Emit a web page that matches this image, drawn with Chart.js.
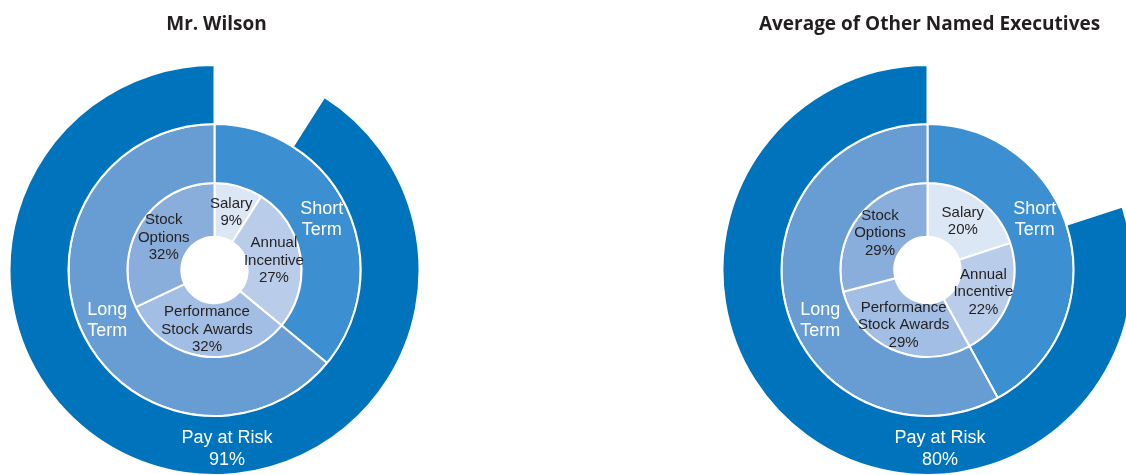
<!DOCTYPE html>
<html>
<head>
<meta charset="utf-8">
<script src="https://cdn.jsdelivr.net/npm/chart.js@4.4.1/dist/chart.umd.min.js"></script>
<style>
  html, body { margin: 0; padding: 0; background: #fff; }
  #wrap { position: relative; width: 1126px; height: 475px; overflow: hidden; }
  .pie { position: absolute; top: 0; width: 429px; height: 475px; }
</style>
</head>
<body>
<div id="wrap">
  <div class="pie" style="left:0"><canvas id="chart-wilson"></canvas></div>
  <div class="pie" style="left:713px"><canvas id="chart-others"></canvas></div>
</div>
<script>
// Pay mix data (percent)
const titles = ['Mr. Wilson', 'Average of Other Named Executives'];

const payLabels = [['Salary'], ['Annual', 'Incentive'], ['Performance', 'Stock Awards'], ['Stock', 'Options']];
const wilsonPay = [9, 27, 32, 32];
const othersPay = [20, 22, 29, 29];

const termLabels = [['Short', 'Term'], ['Long', 'Term']];
const wilsonTerm = [36, 64];
const othersTerm = [42, 58];

// outer ring: salary gap + pay at risk
const riskLabels = [[], ['Pay at Risk']];
const wilsonRisk = [9, 91];
const othersRisk = [20, 80];

const payColors = ['#dce7f5', '#b9cdea', '#a3bee4', '#8aaedb'];
const termColors = ['#3c8fd1', '#689dd4'];
const riskColors = ['rgba(0,0,0,0)', '#0073bd'];

// where the white ring labels sit (degrees clockwise from 12 o'clock)
const termLabelAngles = [64.8, 244.8];
const riskLabelAngle = 176;

const labelPlugin = {
  id: 'ringLabels',
  afterDatasetsDraw(chart) {
    const ctx = chart.ctx;
    ctx.save();
    ctx.textAlign = 'center';
    ctx.textBaseline = 'middle';
    chart.data.datasets.forEach((ds, di) => {
      const meta = chart.getDatasetMeta(di);
      meta.data.forEach((arc, i) => {
        const p = arc.getProps(['x', 'y', 'startAngle', 'endAngle', 'innerRadius', 'outerRadius'], true);
        let r = (p.innerRadius + p.outerRadius) / 2;
        let a = (p.startAngle + p.endAngle) / 2;
        let lines = ds.names[i].slice();
        if (!lines.length) return;
        if (ds.ring === 'term') {
          a = termLabelAngles[i] * Math.PI / 180 - Math.PI / 2;
          r += 2;
        }
        if (ds.ring === 'risk') {
          a = riskLabelAngle * Math.PI / 180 - Math.PI / 2;
          r += 4;
        }
        if (ds.ring !== 'term') lines.push(ds.data[i] + '%');
        const big = ds.ring !== 'pay';
        const lh = big ? 21.5 : 17.5;
        ctx.font = (big ? 18 : 15) + 'px "Liberation Sans", Arial, sans-serif';
        ctx.fillStyle = big ? '#ffffff' : '#231f20';
        const cx = p.x + Math.cos(a) * r;
        const cy = p.y + Math.sin(a) * r;
        lines.forEach((t, k) => {
          ctx.fillText(t, cx, cy + (k - (lines.length - 1) / 2) * lh);
        });
      });
    });
    ctx.restore();
  }
};

// chart heading, drawn above the rings
const headingPlugin = {
  id: 'heading',
  afterDraw(chart) {
    const ctx = chart.ctx;
    const area = chart.chartArea;
    ctx.save();
    ctx.font = 'bold 19px "Open Sans", sans-serif';
    ctx.fillStyle = '#231f20';
    ctx.textAlign = 'center';
    ctx.textBaseline = 'alphabetic';
    ctx.fillText(chart.options.heading, (area.left + area.right) / 2 + 2, 29.5);
    ctx.restore();
  }
};

function makeChart(id, title, risk, term, pay) {
  return new Chart(document.getElementById(id), {
    type: 'doughnut',
    data: {
      datasets: [{
        ring: 'risk', names: riskLabels, data: risk,
        backgroundColor: riskColors, borderColor: '#ffffff', borderWidth: [0, 2], weight: 59
      }, {
        ring: 'term', names: termLabels, data: term,
        backgroundColor: termColors, borderColor: '#ffffff', borderWidth: 2, weight: 59
      }, {
        ring: 'pay', names: payLabels, data: pay,
        backgroundColor: payColors, borderColor: '#ffffff', borderWidth: 2, weight: 54
      }]
    },
    options: {
      responsive: true,
      maintainAspectRatio: false,
      animation: false,
      events: [],
      radius: 205,
      cutout: 33,
      heading: title,
      layout: { padding: { top: 65 } },
      plugins: {
        legend: { display: false },
        tooltip: { enabled: false },
        title: { display: false }
      }
    },
    plugins: [labelPlugin, headingPlugin]
  });
}

makeChart('chart-wilson', titles[0], wilsonRisk, wilsonTerm, wilsonPay);
makeChart('chart-others', titles[1], othersRisk, othersTerm, othersPay);
</script>
</body>
</html>
